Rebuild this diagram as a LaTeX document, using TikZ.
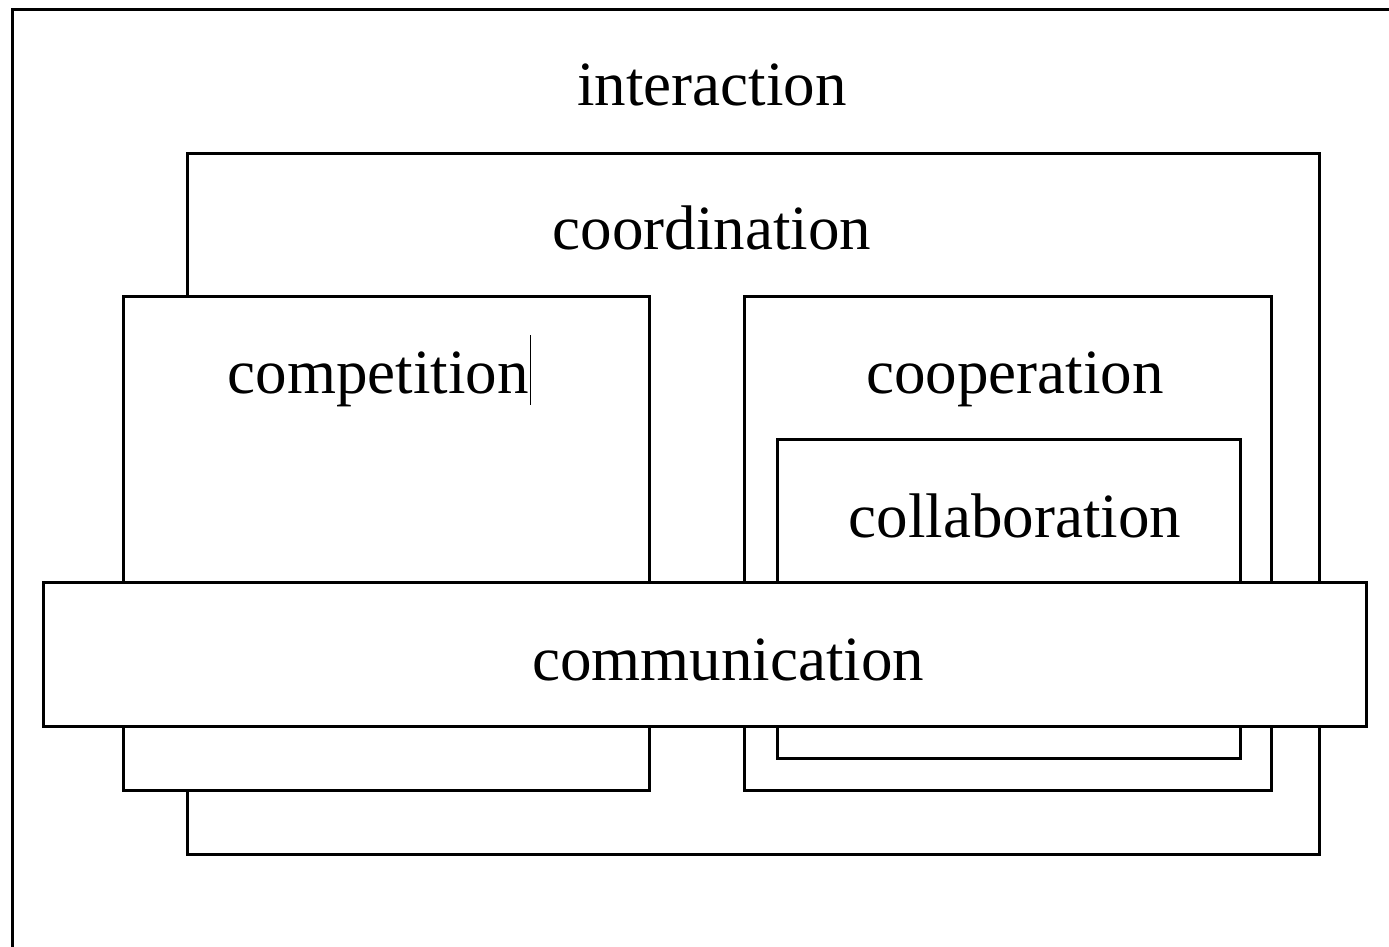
\documentclass[tikz,border=0pt]{standalone}
\usepackage{fontspec}
\setmainfont{Liberation Serif}
\begin{document}
\begin{tikzpicture}[x=1pt,y=1pt,
  box/.style={draw=black, line width=3pt, inner sep=0pt, fill=white},
  lbl/.style={anchor=base, inner sep=0pt, font=\fontsize{63}{70}\selectfont}]
\clip (0,0) rectangle (1389,-946);
\fill[white] (0,0) rectangle (1389,-946);
% outer interaction box (extends beyond right and bottom edges)
\node[box, anchor=north west, minimum width=1420pt, minimum height=980pt] (inter) at (11,-8) {};
\node[lbl] (interl) at (712,-105) {interaction};
% coordination
\node[box, anchor=north west, minimum width=1132pt, minimum height=701pt] (coord) at (186,-152) {};
\node[lbl] (coordl) at (712,-249) {coordination};
% competition
\node[box, anchor=north west, minimum width=526pt, minimum height=494pt] (comp) at (122,-295) {};
\node[lbl] (compl) at (378,-393) {competition};
\draw[line width=1pt] (530,-335) -- (530,-405);
% cooperation
\node[box, anchor=north west, minimum width=527pt, minimum height=494pt] (coop) at (743,-295) {};
\node[lbl] (coopl) at (1015,-393) {cooperation};
% collaboration
\node[box, anchor=north west, minimum width=463pt, minimum height=319pt] (coll) at (776,-438) {};
\node[lbl] (colll) at (1015,-537) {collaboration};
% communication
\node[box, anchor=north west, minimum width=1323pt, minimum height=144pt] (commu) at (42,-581) {};
\node[lbl] (commul) at (728,-680) {communication};
\end{tikzpicture}
\end{document}
